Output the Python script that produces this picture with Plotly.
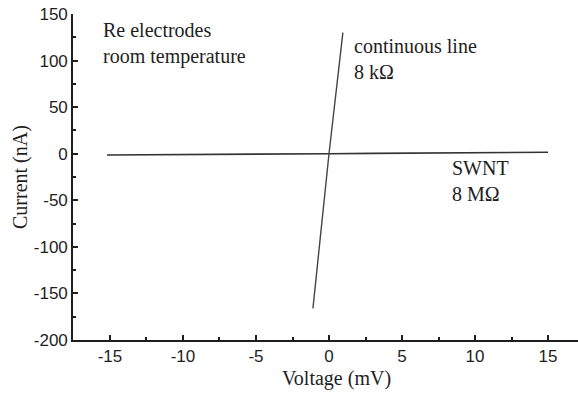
import plotly.graph_objects as go

# I-V curves
cont_voltage = [-1.1, 0.0, 0.95]          # mV
cont_current = [-166.0, 0.0, 130.0]       # nA

swnt_voltage = [-15.2, -12.0, -9.0, -6.0, -3.0, 0.0, 3.0, 6.0, 9.0, 12.0, 15.0]
swnt_current = [-1.3, -1.2, -0.9, -0.7, -0.4, 0.0, 0.4, 0.7, 1.1, 1.3, 1.6]

x_ticks = [-15, -10, -5, 0, 5, 10, 15]
x_tick_text = ["-15", "-10", "-5", "0", "5", "10", "15"]
y_ticks = [-200, -150, -100, -50, 0, 50, 100, 150]
y_tick_text = ["-200", "-150", "-100", "-50", "0", "50", "100", "150"]

serif = "Liberation Serif, Times New Roman, serif"
sans = "Liberation Sans, Arial, sans-serif"
ink = "#1e1e1e"

fig = go.Figure()
fig.add_trace(go.Scatter(x=swnt_voltage, y=swnt_current, mode="lines",
                         line=dict(color="#333333", width=1.6), showlegend=False))
fig.add_trace(go.Scatter(x=cont_voltage, y=cont_current, mode="lines",
                         line=dict(color="#444444", width=1.4), showlegend=False))

axis_common = dict(
    showline=True, linecolor=ink, linewidth=1.6, mirror=False,
    showgrid=False, zeroline=False,
    ticks="inside", ticklen=5, tickwidth=1.5, tickcolor=ink,
    tickfont=dict(family=sans, size=17, color=ink),
)

fig.update_xaxes(range=[-17.53, 17.05], tickvals=x_ticks, ticktext=x_tick_text,
                 minor=dict(ticks="inside", ticklen=3, tickwidth=1.5,
                            tickcolor=ink, dtick=2.5, tick0=0, showgrid=False),
                 **axis_common)
fig.update_yaxes(range=[-200, 150], tickvals=y_ticks, ticktext=y_tick_text,
                 minor=dict(ticks="inside", ticklen=3, tickwidth=1.5,
                            tickcolor=ink, dtick=25, tick0=0, showgrid=False),
                 **axis_common)

notes = [
    dict(x=-15.6, y=118.5, text="Re electrodes<br>room temperature"),
    dict(x=1.55, y=102, text="continuous line<br>8 kΩ"),
    dict(x=8.3, y=-29, text="SWNT<br>8 MΩ"),
]
for n in notes:
    fig.add_annotation(x=n["x"], y=n["y"], xref="x", yref="y", text=n["text"],
                       showarrow=False, xanchor="left", yanchor="middle", align="left",
                       font=dict(family=serif, size=20, color=ink))

fig.add_annotation(x=0.5, y=-200, xref="x", yref="y", yshift=-38,
                   text="Voltage (mV)", showarrow=False,
                   xanchor="center", yanchor="middle",
                   font=dict(family=serif, size=20, color=ink))
fig.add_annotation(x=-17.53, y=-25, xref="x", yref="y", xshift=-53,
                   text="Current (nA)", showarrow=False, textangle=-90,
                   xanchor="center", yanchor="middle",
                   font=dict(family=serif, size=20, color=ink))

fig.update_layout(
    width=578, height=396,
    margin=dict(l=73, r=0, t=14, b=56),
    paper_bgcolor="white", plot_bgcolor="white",
    showlegend=False,
)

fig.write_html("out.html")
